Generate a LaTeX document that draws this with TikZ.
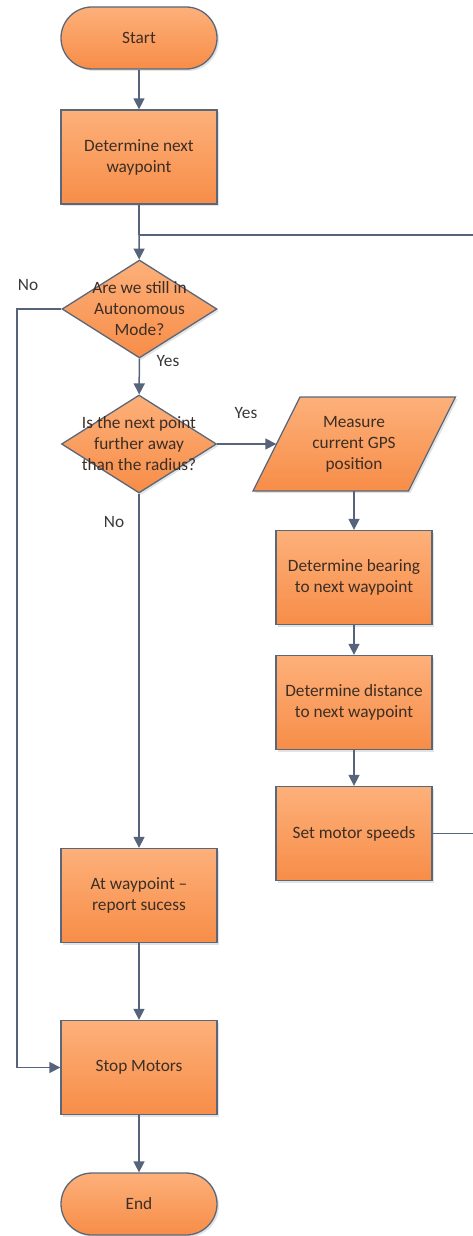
\documentclass[tikz,border=0pt]{standalone}
\usepackage{fontspec}
\setmainfont{Carlito}
\usetikzlibrary{shapes.geometric,arrows.meta,shadows,calc}
\definecolor{boxtop}{HTML}{FDB07A}
\definecolor{boxbot}{HTML}{F78D48}
\definecolor{edge}{HTML}{5A6779}
\definecolor{wirec}{HTML}{56637A}
\definecolor{ink}{HTML}{3C2E25}
\begin{document}
\begin{tikzpicture}[x=1pt,y=-1pt,
  font=\fontsize{17.3}{21}\selectfont,
  fillstyle/.style={draw=edge, line width=1.3pt, top color=boxtop, bottom color=boxbot,
    drop shadow={opacity=0.22, shadow xshift=2pt, shadow yshift=-2pt}},
  box/.style={fillstyle, minimum width=156pt, minimum height=94pt, inner sep=0pt,
    text=ink, align=center},
  term/.style={box, rounded corners=31pt, minimum height=62pt},
  dec/.style={fillstyle, diamond, minimum width=155pt, minimum height=98pt, inner sep=0pt},
  lbl/.style={text=ink, align=center, inner sep=0pt},
  wire/.style={draw=wirec, line width=1.5pt},
  flow/.style={wire, -{Triangle[length=11pt,width=11pt]}},
  tag/.style={text=black!78, inner sep=0pt}
]
\useasboundingbox (0,0) rectangle (473,1236);
\clip (0,0) rectangle (473,1236);

% main column
\node[term] (start) at (139,38) {Start};
\node[box] (next) at (139,157) {Determine next\\waypoint};
\coordinate (join) at (139,235);
\node[dec] (auto) at (139.5,309) {};
\node[lbl] (autotext) at (auto) {Are we still in\\Autonomous\\Mode?};
\node[dec] (far) at (139,444) {};
\node[lbl] (fartext) at (far) {Is the next point\\further away\\than the radius?};
\node[box] (waypoint) at (139,895.5) {At waypoint --\\report sucess};
\node[box] (stop) at (139,1067.5) {Stop Motors};
\node[term] (end) at (139,1204) {End};

% right column
\path[fillstyle] (300,397) -- (455.5,397) -- (408.5,491) -- (253,491) -- cycle;
\node[lbl, minimum width=155pt, minimum height=94pt] (gps) at (354,444)
  {Measure\\current GPS\\position};
\node[box] (bearing) at (354,577.5) {Determine bearing\\to next waypoint};
\node[box] (distance) at (354,702.5) {Determine distance\\to next waypoint};
\node[box] (speeds) at (354,833.5) {Set motor speeds};

% branch labels
\node[tag] (no1) at (28,285) {No};
\node[tag] (yes1) at (168,361) {Yes};
\node[tag] (yes2) at (246,413) {Yes};
\node[tag] (no2) at (114,522) {No};

% connectors
\coordinate (loop) at (495,235);
\coordinate (rail) at (17,1067.5);
\draw[flow] (start) -- (next);
\draw[wire] (next) -- (join);
\draw[flow] (join) -- (auto);
\draw[wire] (speeds.east) -| (loop) -- (join);
\draw[flow] (auto) -- (far);
\draw[flow] (auto.west) -| (rail) -- (stop.west);
\draw[flow] (far.east) -- (gps.west);
\draw[flow] (far.south) -- (waypoint.north);
\draw[flow] (gps.south) -- (bearing);
\draw[flow] (bearing) -- (distance);
\draw[flow] (distance) -- (speeds);
\draw[flow] (waypoint) -- (stop);
\draw[flow] (stop) -- (end);
\end{tikzpicture}
\end{document}
